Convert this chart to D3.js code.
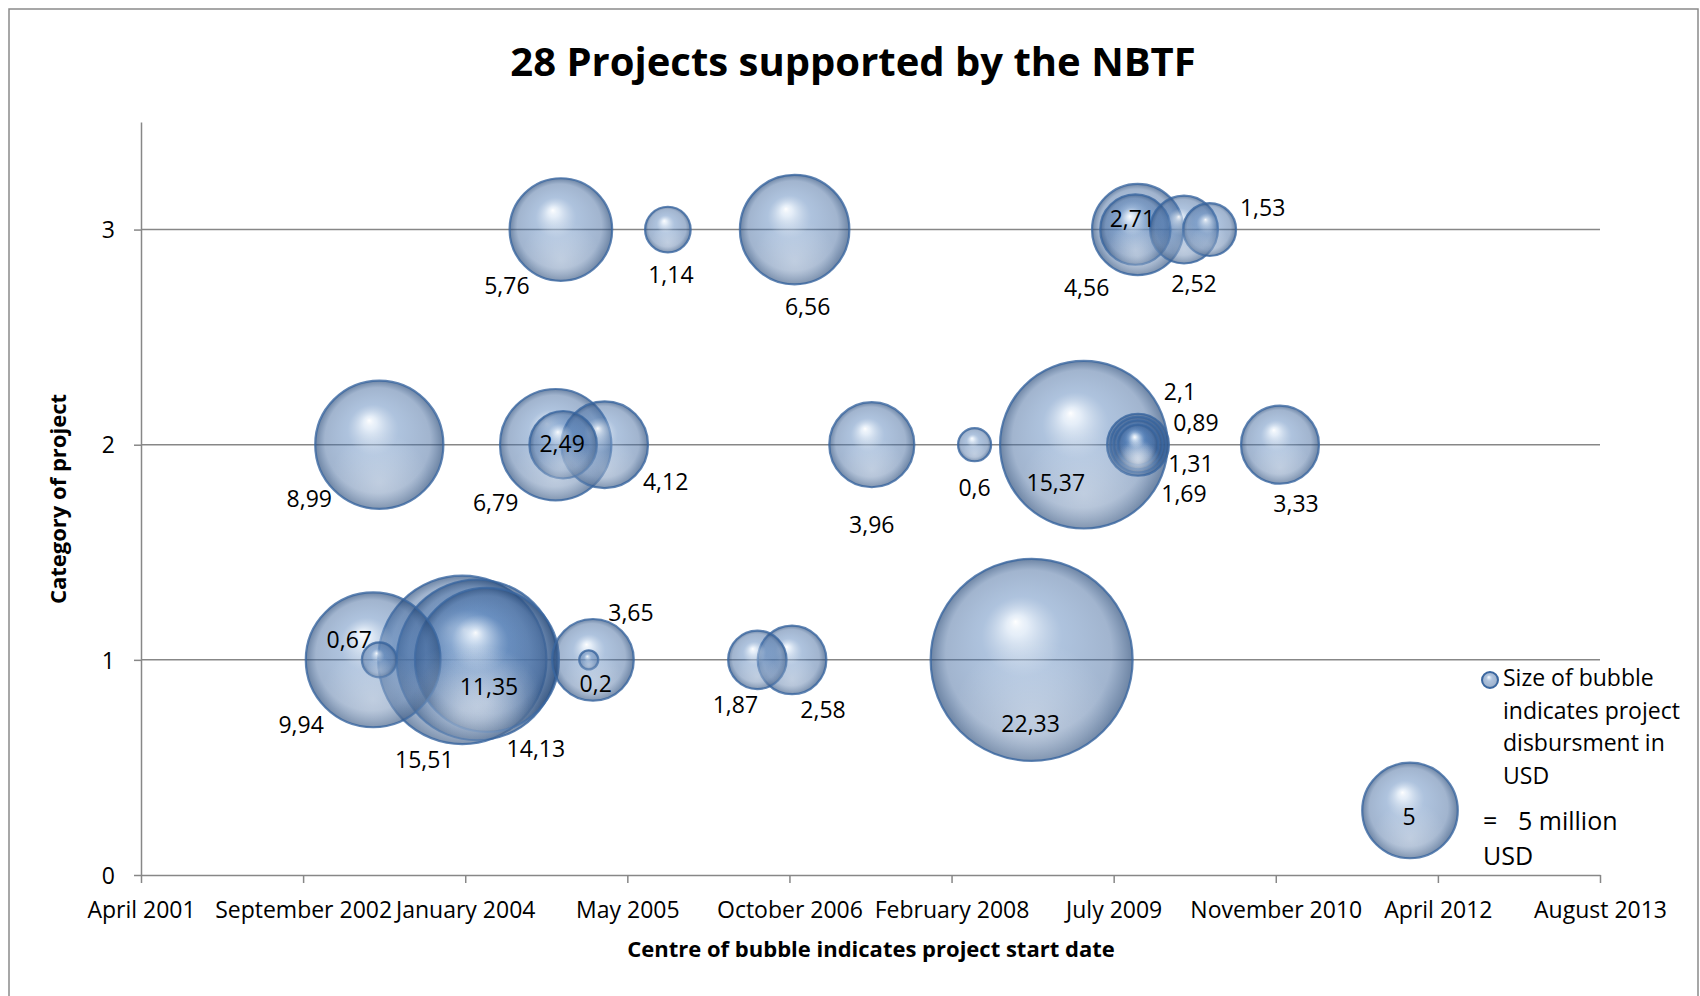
<!DOCTYPE html>
<html>
<head>
<meta charset="utf-8">
<script src="https://cdnjs.cloudflare.com/ajax/libs/d3/7.8.5/d3.min.js"></script>
<style>
  body { margin: 0; background: #ffffff; }
  svg { display: block; font-family: "Open Sans", sans-serif; }
</style>
</head>
<body>
<div id="chart"></div>
<script>
// project data: category (y), start date (x), disbursement in million USD (bubble size)
var categories = [3, 3, 3, 3, 3, 3, 3,
  2, 2, 2, 2, 2, 2, 2, 2, 2, 2, 2, 2,
  1, 1, 1, 1, 1, 1, 1, 1, 1, 1];
var startDates = ["2004-11-04", "2005-09-30", "2006-10-26", "2009-09-18", "2009-09-11", "2010-02-08", "2010-04-28",
  "2003-04-24", "2004-10-19", "2004-11-11", "2005-03-19", "2007-06-21", "2008-05-03", "2009-04-05",
  "2009-09-19", "2009-09-19", "2009-09-19", "2009-09-19", "2010-12-01",
  "2003-04-05", "2003-04-24", "2004-01-05", "2004-02-19", "2004-03-21", "2005-02-11", "2005-01-29",
  "2006-07-03", "2006-10-18", "2008-10-26"];
var disbursements = [5.76, 1.14, 6.56, 4.56, 2.71, 2.52, 1.53,
  8.99, 6.79, 2.49, 4.12, 3.96, 0.6, 15.37, 2.1, 0.89, 1.31, 1.69, 3.33,
  9.94, 0.67, 15.51, 14.13, 11.35, 3.65, 0.2, 1.87, 2.58, 22.33];

// reference bubble used as a size legend
var referenceDate = "2012-01-06";
var referenceLevel = 0.3;
var referenceValue = 5;

var xTickDates = ["2001-04-19", "2002-09-01", "2004-01-14", "2005-05-28", "2006-10-10",
  "2008-02-22", "2009-07-06", "2010-11-18", "2012-04-01", "2013-08-14"];
var yTicks = [0, 1, 2, 3];
var legendLines = ["Size of bubble", "indicates project", "disbursment in", "USD"];

var width = 1700;
var height = 996;

// where each value label sits relative to its bubble centre
var labelOffsets = [[-54, 56], [3, 45], [13, 77], [-51, 58], [-3, -11], [10, 54], [53, -22],
  [-70, 54], [-60, 58], [-1, -1], [61, 37], [0, 80], [0, 43], [-28, 38],
  [42, -53], [58, -22], [53, 19], [46, 49], [16, 59],
  [-72, 65], [-30, -20], [-38, 100], [59, 89], [2, 27], [38, -47], [7, 24],
  [-22, 45], [31, 50], [-1, 64]];

var parseDate = d3.utcParse("%Y-%m-%d");

function formatValue(v) {
  return String(v).replace(".", ",");
}

function draw() {
  var left = 141, right = 1600, top = 122, bottom = 875;

  var svg = d3
    .select("#chart")
    .append("svg")
    .attr("width", width)
    .attr("height", height);

  var defs = svg.append("defs");

  var fill = defs
    .append("radialGradient")
    .attr("id", "bubbleFill")
    .attr("cx", "50%").attr("cy", "50%").attr("r", "50%")
    .attr("fx", "42%").attr("fy", "31%");
  [[0, "#ffffff", 0.9], [0.1, "#d6e4f4", 0.62], [0.4, "#4f7cb6", 0.46],
   [0.82, "#446a9e", 0.5], [1, "#284a78", 0.68]].forEach(function (s) {
    fill.append("stop")
      .attr("offset", s[0])
      .attr("stop-color", s[1])
      .attr("stop-opacity", s[2]);
  });

  var shine = defs
    .append("radialGradient")
    .attr("id", "bubbleShine")
    .attr("cx", "50%").attr("cy", "80%").attr("r", "40%");
  shine.append("stop").attr("offset", 0).attr("stop-color", "#ffffff").attr("stop-opacity", 0.3);
  shine.append("stop").attr("offset", 1).attr("stop-color", "#ffffff").attr("stop-opacity", 0);

  // chart border
  svg
    .append("rect")
    .attr("x", 9)
    .attr("y", 9)
    .attr("width", 1689)
    .attr("height", 995)
    .attr("fill", "none")
    .attr("stroke", "#8a8a8a")
    .attr("stroke-width", 1.5);

  var xScale = d3
    .scaleUtc()
    .domain([parseDate(xTickDates[0]), parseDate(xTickDates[xTickDates.length - 1])])
    .range([left, right]);

  var yScale = d3.scaleLinear().domain([0, 3.5]).range([bottom, top]);

  var rScale = d3.scaleSqrt().domain([0, 22.33]).range([0, 101]);

  // gridlines
  svg
    .selectAll("line.grid")
    .data(yTicks.slice(1))
    .enter()
    .append("line")
    .attr("class", "grid")
    .attr("x1", left)
    .attr("x2", right)
    .attr("y1", function (d) { return yScale(d); })
    .attr("y2", function (d) { return yScale(d); })
    .attr("stroke", "#878787")
    .attr("stroke-width", 1.5);

  var xAxis = d3
    .axisBottom(xScale)
    .tickValues(xTickDates.map(parseDate))
    .tickFormat(d3.utcFormat("%B %Y"))
    .tickSize(8)
    .tickSizeOuter(0);

  var yAxis = d3
    .axisLeft(yScale)
    .tickValues(yTicks)
    .tickFormat(d3.format("d"))
    .tickSize(7)
    .tickSizeOuter(0);

  var gx = svg
    .append("g")
    .attr("transform", "translate(0," + bottom + ")")
    .call(xAxis);
  gx.selectAll("text").attr("y", 43).attr("dy", null);

  var gy = svg
    .append("g")
    .attr("transform", "translate(" + left + ",0)")
    .call(yAxis);
  gy.selectAll("text").attr("x", -26).attr("dy", "0.36em");

  svg.selectAll(".domain, .tick line")
    .attr("stroke", "#878787")
    .attr("stroke-width", 1.5);
  svg.selectAll(".tick text")
    .attr("font-family", "Open Sans")
    .attr("font-size", "23px")
    .attr("fill", "#000");

  var data = disbursements.map(function (v, i) {
    return {
      value: v,
      category: categories[i],
      date: parseDate(startDates[i]),
      offset: labelOffsets[i]
    };
  });
  data.push({
    value: referenceValue,
    category: referenceLevel,
    date: parseDate(referenceDate),
    offset: [-1, 6]
  });

  var order = data.slice().sort(function (a, b) { return b.value - a.value; });

  var bubbles = svg.append("g");
  bubbles
    .selectAll("circle.bubble")
    .data(order)
    .enter()
    .append("circle")
    .attr("class", "bubble")
    .attr("cx", function (d) { return xScale(d.date); })
    .attr("cy", function (d) { return yScale(d.category); })
    .attr("r", function (d) { return rScale(d.value); })
    .attr("fill", "url(#bubbleFill)")
    .attr("stroke", "#3a67a0")
    .attr("stroke-opacity", 0.8)
    .attr("stroke-width", 2.2);
  bubbles
    .selectAll("circle.shine")
    .data(order)
    .enter()
    .append("circle")
    .attr("class", "shine")
    .attr("cx", function (d) { return xScale(d.date); })
    .attr("cy", function (d) { return yScale(d.category); })
    .attr("r", function (d) { return rScale(d.value) - 1; })
    .attr("fill", "url(#bubbleShine)");

  svg
    .append("g")
    .selectAll("text")
    .data(data)
    .enter()
    .append("text")
    .text(function (d) { return formatValue(d.value); })
    .attr("x", function (d) { return xScale(d.date) + d.offset[0]; })
    .attr("y", function (d) { return yScale(d.category) + d.offset[1]; })
    .attr("dy", "0.36em")
    .attr("text-anchor", "middle")
    .attr("font-size", "23px")
    .attr("fill", "#000");

  // title
  svg
    .append("text")
    .attr("x", 853)
    .attr("y", 76)
    .attr("text-anchor", "middle")
    .attr("font-size", "40px")
    .attr("font-weight", "bold")
    .text("28 Projects supported by the NBTF");

  // axis titles
  svg
    .append("text")
    .attr("x", 871)
    .attr("y", 957)
    .attr("text-anchor", "middle")
    .attr("font-size", "22px")
    .attr("font-weight", "bold")
    .text("Centre of bubble indicates project start date");

  svg
    .append("text")
    .attr("transform", "translate(66,499) rotate(-90)")
    .attr("text-anchor", "middle")
    .attr("font-size", "22px")
    .attr("font-weight", "bold")
    .text("Category of project");

  // legend
  svg
    .append("circle")
    .attr("cx", 1490)
    .attr("cy", 680)
    .attr("r", 8)
    .attr("fill", "url(#bubbleFill)")
    .attr("stroke", "#3a67a0")
    .attr("stroke-width", 2);

  svg
    .append("g")
    .selectAll("text")
    .data(legendLines)
    .enter()
    .append("text")
    .attr("x", 1503)
    .attr("y", function (d, i) { return 686 + i * 32.5; })
    .attr("font-size", "23px")
    .text(function (d) { return d; });

  svg
    .append("text")
    .attr("x", 1483)
    .attr("y", 830)
    .attr("font-size", "25px")
    .text("=");
  svg
    .append("text")
    .attr("x", 1518)
    .attr("y", 830)
    .attr("font-size", "25px")
    .text(referenceValue + " million");
  svg
    .append("text")
    .attr("x", 1483)
    .attr("y", 865)
    .attr("font-size", "25px")
    .text("USD");
}

draw();
</script>
</body>
</html>
